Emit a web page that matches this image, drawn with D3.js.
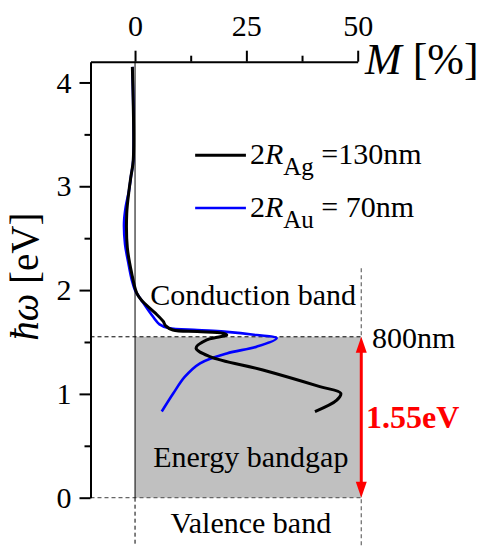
<!DOCTYPE html>
<html>
<head>
<meta charset="utf-8">
<script src="https://cdn.jsdelivr.net/npm/d3@7"></script>
<style>
  body { margin: 0; background: #fff; }
  svg text { font-family: "Liberation Serif", "Times New Roman", serif; }
</style>
</head>
<body>
<div id="chart"></div>
<script>
// Ag sphere (2R = 130nm): M [%] against photon energy [eV]
const agM = [-0.6, -0.4, -0.9, -1.35, -1.86, -1.73, -0.74, 0.38, 1.5, 4.5, 6.3, 6.9, 8.5, 14, 19.75, 20.6, 18.5, 16.1, 13.7, 16.8, 28.7, 41.5, 46.2, 45.3, 40.4];
const agE = [4.15, 3.25, 3.1, 2.96, 2.74, 2.41, 2.16, 1.97, 1.90, 1.78, 1.70, 1.655, 1.615, 1.60, 1.584, 1.567, 1.545, 1.52, 1.44, 1.36, 1.23, 1.07, 1.006, 0.94, 0.83];

// Au sphere (2R = 70nm)
const auM = [-0.6, -0.4, -0.9, -1.35, -2.1, -2.47, -2.24, -1.5, -0.74, 0, 1.8, 4.1, 5.5, 7.5, 14, 20, 27.3, 31.8, 27.3, 20.6, 14.6, 11.2, 8.6, 6.0];
const auE = [4.15, 3.25, 3.1, 2.96, 2.8, 2.65, 2.44, 2.26, 2.10, 2.0, 1.88, 1.74, 1.67, 1.635, 1.615, 1.60, 1.567, 1.536, 1.455, 1.39, 1.295, 1.166, 1.006, 0.83];

// axes
const xTicks = [0, 25, 50];
const xMinor = [12.5, 37.5];
const yTicks = [0, 1, 2, 3, 4];
const yMinor = [0.5, 1.5, 2.5, 3.5];

// band picture
const gapTop = 1.55;     // eV (800nm)
const gapBottom = 0;
const bandRight = 50.8;  // M where the dashed guide / arrow sits

const width = 481, height = 546;
const serif = "'Liberation Serif', 'Times New Roman', serif";

const svg = d3.select("#chart").append("svg")
    .attr("width", width)
    .attr("height", height);

const x = d3.scaleLinear().domain([-10, 50]).range([90.5, 357.7]);
const y = d3.scaleLinear().domain([0, 4.2]).range([497.7, 61.7]);

// gray bandgap block
svg.append("rect")
    .attr("x", x(0))
    .attr("y", y(gapTop))
    .attr("width", x(bandRight) - x(0))
    .attr("height", y(gapBottom) - y(gapTop))
    .attr("fill", "#c0c0c0");

// guide lines
const guides = svg.append("g").attr("fill", "none");
guides.append("line")
    .attr("x1", x(-10)).attr("x2", x(bandRight))
    .attr("y1", y(gapTop)).attr("y2", y(gapTop))
    .attr("stroke", "#000").attr("stroke-width", 1).attr("stroke-dasharray", "4,3");
guides.append("line")
    .attr("x1", x(-10)).attr("x2", x(bandRight))
    .attr("y1", y(gapBottom)).attr("y2", y(gapBottom))
    .attr("stroke", "#666").attr("stroke-width", 1.2).attr("stroke-dasharray", "4,3");
guides.append("line")
    .attr("x1", x(0)).attr("x2", x(0))
    .attr("y1", y(4.2)).attr("y2", y(0))
    .attr("stroke", "#000").attr("stroke-width", 1);
guides.append("line")
    .attr("x1", x(0)).attr("x2", x(0))
    .attr("y1", y(0)).attr("y2", height)
    .attr("stroke", "#000").attr("stroke-width", 1).attr("stroke-dasharray", "4,3");
guides.append("line")
    .attr("x1", x(bandRight)).attr("x2", x(bandRight))
    .attr("y1", y(2.21)).attr("y2", height)
    .attr("stroke", "#666").attr("stroke-width", 1.2).attr("stroke-dasharray", "4,3");

// curves
const line = d3.line()
    .x(d => x(d[0]))
    .y(d => y(d[1]))
    .curve(d3.curveCatmullRom.alpha(0.5));

svg.append("path")
    .datum(d3.zip(auM, auE))
    .attr("d", line)
    .attr("fill", "none")
    .attr("stroke", "#0000ff")
    .attr("stroke-width", 2.6);

svg.append("path")
    .datum(d3.zip(agM, agE))
    .attr("d", line)
    .attr("fill", "none")
    .attr("stroke", "#000")
    .attr("stroke-width", 3);

// axes
svg.append("g")
    .attr("transform", `translate(0,${y(4.2)})`)
    .call(d3.axisTop(x).tickValues(xTicks).tickSize(11).tickSizeOuter(0).tickPadding(15).tickFormat(d3.format("d")));
svg.append("g")
    .attr("transform", `translate(0,${y(4.2)})`)
    .call(d3.axisTop(x).tickValues(xMinor).tickSize(6).tickFormat(""))
    .call(g => g.select(".domain").remove());

svg.append("g")
    .attr("transform", `translate(${x(-10)},0)`)
    .call(d3.axisLeft(y).tickValues(yTicks).tickSize(11).tickSizeOuter(0).tickPadding(8).tickFormat(d3.format("d")));
svg.append("g")
    .attr("transform", `translate(${x(-10)},0)`)
    .call(d3.axisLeft(y).tickValues(yMinor).tickSize(6).tickFormat(""))
    .call(g => g.select(".domain").remove());

svg.selectAll(".domain, .tick line")
    .attr("stroke", "#000")
    .attr("stroke-width", 2);
svg.selectAll(".tick text")
    .attr("fill", "#000")
    .style("font-size", "30px");

// axis titles
const mTitle = svg.append("text")
    .attr("x", 365).attr("y", 74)
    .style("font-size", "44px");
mTitle.append("tspan").attr("font-style", "italic").text("M");
mTitle.append("tspan").text("\u00a0[%]");

const eTitle = svg.append("text")
    .attr("transform", `translate(38,${(y(1.1) + y(3.1)) / 2 - 3}) rotate(-90)`)
    .attr("text-anchor", "middle")
    .style("font-size", "39px");
eTitle.append("tspan").attr("font-style", "italic").text("ħω");
eTitle.append("tspan").text("\u00a0[eV]");

// legend
const legendRows = [
    {color: "#000", width: 3, sub: "Ag", rest: "\u00a0=130nm", e: 3.30},
    {color: "#0000ff", width: 2.6, sub: "Au", rest: "\u00a0=\u00a070nm", e: 2.79}
];
legendRows.forEach(r => {
    svg.append("line")
        .attr("x1", x(13.5)).attr("x2", x(24.9))
        .attr("y1", y(r.e)).attr("y2", y(r.e))
        .attr("stroke", r.color).attr("stroke-width", r.width);
    const t = svg.append("text")
        .attr("x", x(25.8)).attr("y", y(r.e) + 9)
        .style("font-size", "30px");
    t.append("tspan").text("2");
    t.append("tspan").attr("font-style", "italic").text("R");
    t.append("tspan").attr("dy", 11).style("font-size", "25px").text(r.sub);
    t.append("tspan").attr("dy", -11).text(r.rest);
});

// annotations
svg.append("text")
    .attr("x", x(3.4)).attr("y", y(1.857))
    .style("font-size", "30px")
    .text("Conduction band");
svg.append("text")
    .attr("x", x(53.2)).attr("y", y(1.44))
    .style("font-size", "30px")
    .text("800nm");
svg.append("text")
    .attr("x", x(26)).attr("y", y(0.296))
    .attr("text-anchor", "middle")
    .style("font-size", "30px")
    .text("Energy bandgap");
svg.append("text")
    .attr("x", x(26)).attr("y", y(-0.34))
    .attr("text-anchor", "middle")
    .style("font-size", "30px")
    .text("Valence band");
svg.append("text")
    .attr("x", x(51.85)).attr("y", y(0.67))
    .attr("fill", "#ff0000")
    .attr("font-weight", "bold")
    .style("font-size", "32px")
    .text("1.55eV");

// double-headed red arrow for the gap
const ax = x(bandRight), headL = 16, headW = 5.5;
svg.append("line")
    .attr("x1", ax).attr("x2", ax)
    .attr("y1", y(gapTop) + headL - 2).attr("y2", y(gapBottom) - headL + 2)
    .attr("stroke", "#ff0000").attr("stroke-width", 3);
svg.append("path")
    .attr("d", `M${ax},${y(gapTop)}L${ax - headW},${y(gapTop) + headL}L${ax + headW},${y(gapTop) + headL}Z`)
    .attr("fill", "#ff0000");
svg.append("path")
    .attr("d", `M${ax},${y(gapBottom)}L${ax - headW},${y(gapBottom) - headL}L${ax + headW},${y(gapBottom) - headL}Z`)
    .attr("fill", "#ff0000");

// one serif face for every label
svg.selectAll("text").style("font-family", serif);
</script>
</body>
</html>
